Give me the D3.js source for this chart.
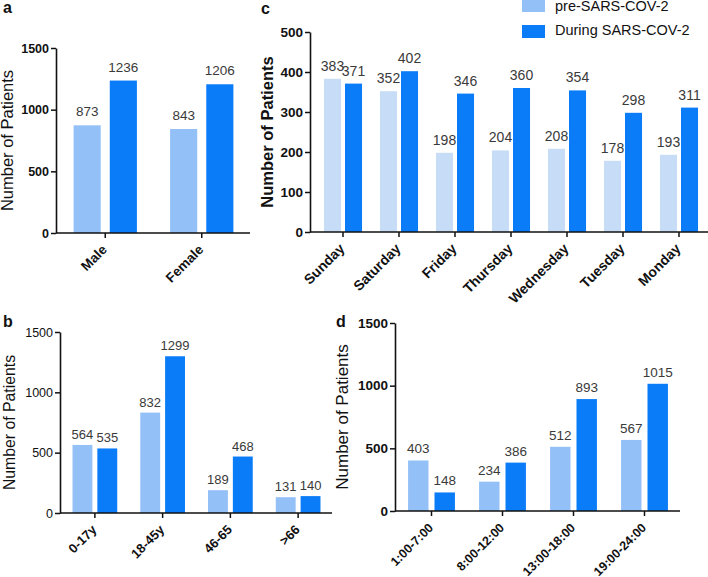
<!DOCTYPE html>
<html><head><meta charset="utf-8">
<script src="https://cdn.jsdelivr.net/npm/d3@7"></script>
<style>
body{margin:0;background:#fff;}
svg{display:block;font-family:"Liberation Sans",Arial,Helvetica,sans-serif;}
</style></head>
<body>
<svg id="chart" width="708" height="577"></svg>
<script>
// ---- data ----
const seriesNames = ["pre-SARS-COV-2", "During SARS-COV-2"];

const genderCats = ["Male", "Female"];
const genderPre = [873, 843];
const genderDuring = [1236, 1206];

const ageCats = ["0-17y", "18-45y", "46-65", ">66"];
const agePre = [564, 832, 189, 131];
const ageDuring = [535, 1299, 468, 140];

const dayCats = ["Sunday", "Saturday", "Friday", "Thursday", "Wednesday", "Tuesday", "Monday"];
const dayPre = [383, 352, 198, 204, 208, 178, 193];
const dayDuring = [371, 402, 346, 360, 354, 298, 311];

const timeCats = ["1:00-7:00", "8:00-12:00", "13:00-18:00", "19:00-24:00"];
const timePre = [403, 234, 512, 567];
const timeDuring = [148, 386, 893, 1015];

const ticks1500 = [0, 500, 1000, 1500];
const ticks500 = [0, 100, 200, 300, 400, 500];

// ---- styles ----
const DARK = "#0a7cf8";
const LIGHT = "#93c0f7";
const LIGHT_C = "#c7dcf6";
const svg = d3.select("#chart");

function panel(o) {
  const g = svg.append("g");
  const x0 = d3.scaleBand().domain(o.cats).range(o.xr).paddingInner(o.gp).paddingOuter(o.gp / 2);
  const x1 = d3.scaleBand().domain([0, 1]).range([0, x0.bandwidth()]).paddingInner(o.bp);
  const y = d3.scaleLinear().domain([0, o.max]).range(o.yr);
  const rows = o.cats.map((c, i) => ({c, v: [o.pre[i], o.dur[i]]}));
  const colors = [o.light, DARK];

  const grp = g.selectAll("g.grp").data(rows).join("g")
    .attr("transform", d => `translate(${x0(d.c)},0)`);
  grp.selectAll("rect").data(d => d.v.map((v, k) => ({v, k}))).join("rect")
    .attr("x", d => x1(d.k)).attr("width", x1.bandwidth())
    .attr("y", d => y(d.v)).attr("height", d => y(0) - y(d.v))
    .attr("fill", d => colors[d.k]);
  grp.selectAll("text").data(d => d.v.map((v, k) => ({v, k}))).join("text")
    .attr("x", d => x1(d.k) + x1.bandwidth() / 2)
    .attr("y", d => y(d.v) - o.lgap)
    .attr("text-anchor", "middle").attr("fill", "#3a3a3a")
    .style("font-size", o.vfs + "px")
    .text(d => d.v);

  // y axis
  const ya = g.append("g").attr("transform", `translate(${o.xr[0] - o.yoff},0)`)
    .call(d3.axisLeft(y).tickValues(o.ticks).tickFormat(d3.format("d"))
      .tickSize(5).tickSizeOuter(0).tickPadding(2));
  ya.select(".domain").attr("stroke", "#111").attr("stroke-width", 1.6);
  ya.selectAll(".tick line").attr("stroke", "#111").attr("stroke-width", 1.5);
  ya.selectAll(".tick text").attr("fill", "#111").style("font-size", o.yfs + "px")
    .style("font-weight", o.ybold ? "bold" : "normal").style("font-family", "Liberation Sans, Arial, sans-serif");

  // x axis
  const xa = g.append("g").attr("transform", `translate(0,${y(0)})`)
    .call(d3.axisBottom(x0).tickSize(5).tickSizeOuter(0));
  xa.select(".domain").attr("d", `M${o.xr[0] - o.yoff},0H${o.xend}`)
    .attr("stroke", "#111").attr("stroke-width", 1.6);
  xa.selectAll(".tick line").attr("stroke", "#111").attr("stroke-width", 1.5);
  xa.selectAll(".tick text").attr("fill", "#111")
    .style("font-size", o.xfs + "px").style("font-weight", o.xbold ? "bold" : "normal")
    .style("font-family", "Liberation Sans, Arial, sans-serif")
    .attr("text-anchor", "end").attr("y", 0).attr("dy", 0)
    .attr("transform", "translate(2.5,17.5) rotate(-45)");

  // y label
  g.append("text")
    .attr("transform", `translate(${o.lx},${(o.yr[0] + o.yr[1]) / 2}) rotate(-90)`)
    .attr("text-anchor", "middle").attr("fill", "#111")
    .style("font-size", o.lfs + "px").style("font-weight", o.lbold ? "bold" : "normal")
    .text("Number of Patients");

  // panel letter
  g.append("text").attr("x", o.px).attr("y", o.py).attr("fill", "#111")
    .style("font-size", "16px").style("font-weight", "bold").text(o.letter);
}

panel({cats: genderCats, pre: genderPre, dur: genderDuring, max: 1500, ticks: ticks1500,
  xr: [57, 250], xend: 250, yoff: 1, yr: [233, 48], gp: 0.344, bp: 0.25, light: LIGHT,
  lgap: 9, vfs: 13.5, yfs: 12.5, ybold: true, xfs: 13.5, xbold: true,
  lx: 13, lfs: 16.5, lbold: false, px: 3, py: 13, letter: "a"});

panel({cats: dayCats, pre: dayPre, dur: dayDuring, max: 500, ticks: ticks500,
  xr: [315, 707], xend: 708, yoff: 5, yr: [232, 32], gp: 0.32, bp: 0.19, light: LIGHT_C,
  lgap: 8, vfs: 14, yfs: 13.5, ybold: true, xfs: 14, xbold: true,
  lx: 273, lfs: 16.5, lbold: true, px: 261, py: 14, letter: "c"});

panel({cats: ageCats, pre: agePre, dur: ageDuring, max: 1500, ticks: ticks1500,
  xr: [61, 332], xend: 332, yoff: 1, yr: [513, 332], gp: 0.34, bp: 0.2, light: LIGHT,
  lgap: 6, vfs: 13, yfs: 12.5, ybold: false, xfs: 13, xbold: true,
  lx: 15, lfs: 15.8, lbold: false, px: 3, py: 327, letter: "b"});

panel({cats: timeCats, pre: timePre, dur: timeDuring, max: 1500, ticks: ticks1500,
  xr: [396, 680], xend: 680, yoff: 1, yr: [511, 323], gp: 0.34, bp: 0.227, light: LIGHT,
  lgap: 7, vfs: 13.5, yfs: 13.5, ybold: true, xfs: 12.5, xbold: true,
  lx: 348, lfs: 17, lbold: false, px: 336, py: 327, letter: "d"});

// legend
const legend = svg.append("g");
const legColors = [LIGHT, DARK];
const legY = [0, 25];
const legBase = [11, 35];
seriesNames.forEach((n, i) => {
  legend.append("rect").attr("x", 522).attr("y", legY[i] - (i === 0 ? 1 : 0)).attr("width", 23)
    .attr("height", 13).attr("fill", legColors[i]);
  legend.append("text").attr("x", 555).attr("y", legBase[i]).attr("fill", "#111")
    .style("font-size", "14.5px").text(n);
});
</script>
</body></html>
